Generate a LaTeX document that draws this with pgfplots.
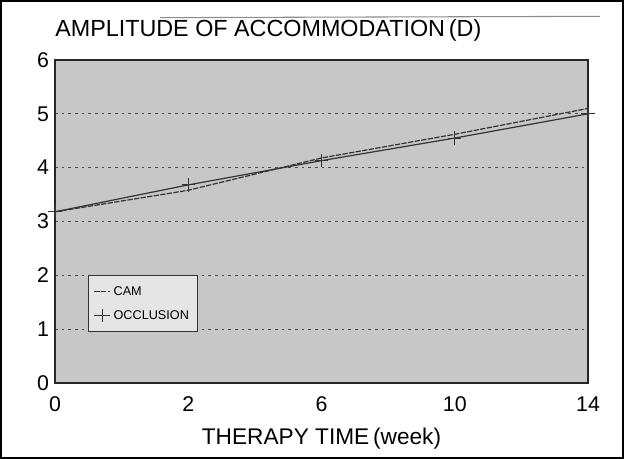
\documentclass[border=0pt]{standalone}
\usepackage{fontspec}
\setmainfont{Liberation Sans}
\usepackage{pgfplots}
\pgfplotsset{compat=1.18}
\begin{document}
\begin{tikzpicture}
\useasboundingbox (0,0) rectangle (468pt,344.25pt);
\draw[line width=1.5pt] (0.75pt,0.75pt) rectangle (467.25pt,343.5pt);
\draw[black!45, line width=0.8pt] (120pt,331pt) -- (450pt,332pt);
\begin{axis}[
  at={(41.25pt,57pt)}, anchor=south west,
  scale only axis, width=399.75pt, height=242.25pt,
  xmin=0, xmax=4, ymin=0, ymax=6,
  xtick={0,1,2,3,4}, xticklabels={0,2,6,10,14},
  ytick={0,1,2,3,4,5,6},
  major tick length=0pt,
  ymajorgrids,
  grid style={black!70, line width=0.6pt, dash pattern=on 2pt off 3pt},
  axis line style={black!85, line width=1pt},
  axis background/.style={fill=black!22},
  /pgf/number format/assume math mode=true,
  tick label style={font=\fontsize{16}{16}\selectfont},
  xticklabel style={yshift=-7pt},
  yticklabel style={xshift=-1pt},
  title={AMPLITUDE OF ACCOMMODATION\,(D)},
  title style={at={(0,1)}, anchor=base west, yshift=11.5pt, inner sep=0pt,
    font=\fontsize{17.5}{17.5}\selectfont},
  xlabel={THERAPY TIME\,(week)},
  xlabel style={at={(0.5,0)}, anchor=base, yshift=-46pt, inner sep=0pt,
    font=\fontsize{17}{17}\selectfont},
  clip=false,
  legend style={at={(0.062,0.334)}, anchor=north west,
    font=\fontsize{9.5}{10}\selectfont, draw=black!80, line width=0.6pt,
    fill=black!10, inner xsep=4pt, inner ysep=6pt,
    row sep=6pt, cells={anchor=west}},
  legend cell align=left,
  legend image code/.code={%
    \draw[mark repeat=2,mark phase=2,#1] plot coordinates {(0pt,0pt) (6pt,0pt) (12pt,0pt)};},
]
\addplot[black!80, line width=0.9pt, dash pattern=on 4pt off 1pt] coordinates {
  (0,3.18) (1,3.58) (2,4.18) (3,4.62) (4,5.10)};
\addlegendentry{CAM}
\addplot[black!80, line width=0.9pt, mark=+, mark size=5pt,
  mark options={solid, line width=0.8pt}] coordinates {
  (0,3.18) (1,3.68) (2,4.13) (3,4.55) (4,5.00)};
\addlegendentry{OCCLUSION}
\end{axis}
\end{tikzpicture}
\end{document}
